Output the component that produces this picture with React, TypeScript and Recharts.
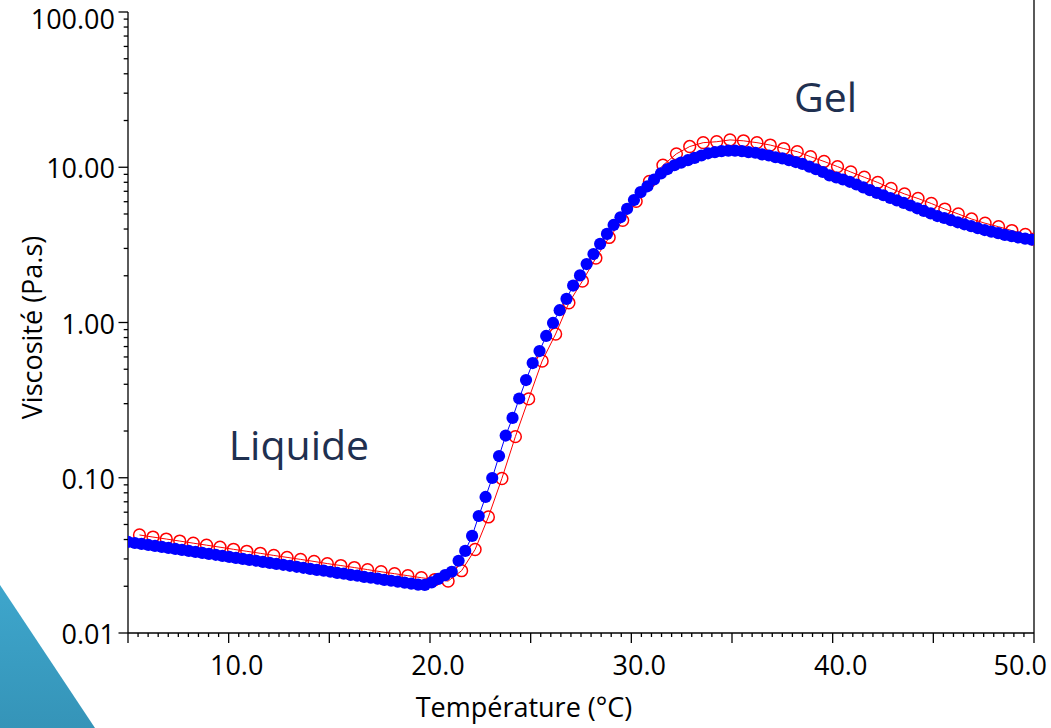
import React from "react";
import { Label, Line, LineChart, ReferenceDot, ReferenceLine, XAxis, YAxis } from "recharts";

// blue: filled dots, measured every ~0.335 °C
const blueTemp = [
  5.0, 5.34, 5.67, 6.01, 6.34, 6.68, 7.01, 7.35, 7.68, 8.02,
  8.35, 8.69, 9.02, 9.36, 9.69, 10.03, 10.36, 10.7, 11.03, 11.37,
  11.7, 12.04, 12.37, 12.71, 13.04, 13.38, 13.71, 14.05, 14.38, 14.72,
  15.05, 15.39, 15.72, 16.06, 16.39, 16.73, 17.06, 17.4, 17.73, 18.07,
  18.4, 18.74, 19.07, 19.41, 19.74, 20.08, 20.41, 20.75, 21.08, 21.42,
  21.75, 22.09, 22.42, 22.76, 23.09, 23.43, 23.76, 24.1, 24.43, 24.77,
  25.1, 25.44, 25.77, 26.11, 26.44, 26.78, 27.11, 27.45, 27.78, 28.12,
  28.45, 28.79, 29.12, 29.46, 29.79, 30.13, 30.46, 30.8, 31.13, 31.47,
  31.8, 32.14, 32.47, 32.81, 33.14, 33.48, 33.81, 34.15, 34.48, 34.82,
  35.15, 35.49, 35.82, 36.16, 36.49, 36.83, 37.16, 37.5, 37.83, 38.17,
  38.5, 38.84, 39.17, 39.51, 39.84, 40.18, 40.51, 40.85, 41.18, 41.52,
  41.85, 42.19, 42.52, 42.86, 43.19, 43.53, 43.86, 44.2, 44.53, 44.87,
  45.2, 45.54, 45.87, 46.21, 46.54, 46.88, 47.21, 47.55, 47.88, 48.22,
  48.55, 48.89, 49.22, 49.56, 49.89,
];
const blueVisc = [
  0.0386, 0.038, 0.0375, 0.0369, 0.0364, 0.0359, 0.0353, 0.0348, 0.0343, 0.0338,
  0.0333, 0.0328, 0.0323, 0.0319, 0.0314, 0.0309, 0.0305, 0.03, 0.0296, 0.0292,
  0.0287, 0.0283, 0.0279, 0.0275, 0.0271, 0.0267, 0.0263, 0.0259, 0.0255, 0.0252,
  0.0248, 0.0244, 0.0241, 0.0237, 0.0234, 0.023, 0.0227, 0.0224, 0.022, 0.0217,
  0.0214, 0.0211, 0.0208, 0.0205, 0.0204, 0.0212, 0.0223, 0.0236, 0.0248, 0.0292,
  0.0338, 0.0422, 0.0567, 0.0752, 0.0996, 0.138, 0.187, 0.243, 0.324, 0.426,
  0.548, 0.655, 0.819, 0.993, 1.2, 1.42, 1.73, 2.01, 2.38, 2.76,
  3.21, 3.72, 4.25, 4.76, 5.4, 6.15, 6.91, 7.54, 8.34, 9.12,
  9.74, 10.3, 10.7, 11.1, 11.5, 11.9, 12.3, 12.5, 12.7, 12.8,
  12.8, 12.7, 12.5, 12.4, 12.1, 11.9, 11.6, 11.4, 11.1, 10.8,
  10.5, 10.1, 9.71, 9.32, 8.87, 8.59, 8.34, 8.06, 7.74, 7.41,
  7.12, 6.83, 6.6, 6.34, 6.11, 5.89, 5.67, 5.44, 5.23, 5.04,
  4.85, 4.71, 4.56, 4.42, 4.29, 4.17, 4.05, 3.94, 3.85, 3.76,
  3.67, 3.6, 3.53, 3.47, 3.42,
];

// red: open circles, every ~0.67 °C
const redTemp = [
  5.57, 6.24, 6.9, 7.57, 8.24, 8.9, 9.57, 10.24, 10.9, 11.57,
  12.24, 12.9, 13.57, 14.24, 14.9, 15.57, 16.24, 16.9, 17.57, 18.24,
  18.9, 19.57, 20.24, 20.9, 21.57, 22.24, 22.9, 23.57, 24.24, 24.9,
  25.57, 26.24, 26.9, 27.57, 28.24, 28.9, 29.57, 30.24, 30.9, 31.57,
  32.24, 32.9, 33.57, 34.24, 34.9, 35.57, 36.24, 36.9, 37.57, 38.24,
  38.9, 39.57, 40.24, 40.9, 41.57, 42.24, 42.9, 43.57, 44.24, 44.9,
  45.57, 46.24, 46.9, 47.57, 48.24, 48.9, 49.57, 50.0,
];
const redVisc = [
  0.0428, 0.0415, 0.0403, 0.0391, 0.0379, 0.0368, 0.0357, 0.0346, 0.0336, 0.0326,
  0.0316, 0.0307, 0.0298, 0.0289, 0.028, 0.0272, 0.0264, 0.0256, 0.0248, 0.0241,
  0.0234, 0.0227, 0.0221, 0.0216, 0.0252, 0.0345, 0.0559, 0.0989, 0.184, 0.322,
  0.565, 0.843, 1.34, 1.85, 2.6, 3.53, 4.55, 6.03, 8.1, 10.3,
  12.2, 13.6, 14.4, 14.6, 15.0, 14.8, 14.4, 13.9, 13.2, 12.6,
  11.7, 10.9, 10.1, 9.32, 8.62, 7.98, 7.3, 6.73, 6.29, 5.84,
  5.38, 5.0, 4.64, 4.36, 4.14, 3.91, 3.69, 3.44,
];

const xLabels = [10, 20, 30, 40, 50];
const yLabels = [0.01, 0.1, 1, 10, 100];

const xTicks = Array.from({ length: 91 }, (_, i) => 5 + i * 0.5);
const yTicks = yLabels.flatMap((m, i) =>
  i < yLabels.length - 1 ? [m, ...[2, 3, 4, 5, 6, 7, 8, 9].map((k) => m * k)] : [m]
);

const blueData = blueTemp.map((t, i) => ({ t, v: blueVisc[i] }));
const redData = redTemp.map((t, i) => ({ t, v: redVisc[i] }));

const FONT = "'Open Sans', sans-serif";
const AXIS = "#000";

function XTick(props: any) {
  const { x, y, payload } = props;
  const v = payload.value;
  const major = Math.abs(v / 5 - Math.round(v / 5)) < 1e-6;
  const labelled = xLabels.some((l) => Math.abs(l - v) < 1e-6);
  const last = Math.abs(v - 50) < 1e-6;
  return (
    <g>
      <line x1={x} x2={x} y1={y} y2={y + (major ? 10 : 4)} stroke={AXIS} strokeWidth={1.3} />
      {labelled && (
        <text
          x={last ? x + 13 : x + 8}
          y={y + 41.5}
          textAnchor={last ? "end" : "middle"}
          fontFamily={FONT}
          fontSize={27}
          fill="#000"
        >
          {v.toFixed(1)}
        </text>
      )}
    </g>
  );
}

function YTick(props: any) {
  const { x, y, payload } = props;
  const v = payload.value;
  const lg = Math.log10(v);
  const major = Math.abs(lg - Math.round(lg)) < 1e-6;
  return (
    <g>
      <line x1={x - (major ? 9.5 : 4.3)} x2={x} y1={y} y2={y} stroke={AXIS} strokeWidth={1.3} />
      {major && (
        <text
          x={x - 13}
          y={y + (v > 50 ? 17 : 11)}
          textAnchor="end"
          fontFamily={FONT}
          fontSize={27}
          fill="#000"
        >
          {v.toFixed(2)}
        </text>
      )}
    </g>
  );
}

export default function App() {
  return (
    <div style={{ position: "absolute", left: 0, top: 0, width: 1051, height: 728, background: "#fff" }}>
      <svg width={1051} height={728} style={{ position: "absolute", left: 0, top: 0 }}>
        <defs>
          <linearGradient id="tri" x1="0" y1="0" x2="0" y2="1">
            <stop offset="0%" stopColor="#3ea6cc" />
            <stop offset="100%" stopColor="#3594b8" />
          </linearGradient>
        </defs>
        <polygon points="0,585 95,728 0,728" fill="url(#tri)" />
      </svg>
      <div style={{ position: "absolute", left: 0, top: 0 }}>
        <LineChart width={1051} height={728} margin={{ top: 12, right: 17, bottom: 0, left: 0 }}>
          <XAxis
            dataKey="t"
            type="number"
            domain={[5, 50]}
            ticks={xTicks}
            interval={0}
            height={95}
            tickSize={0}
            tickMargin={0}
            tick={<XTick />}
            axisLine={{ stroke: AXIS, strokeWidth: 1.3 }}
            allowDataOverflow
          >
            <Label
              content={() => (
                <text x={524} y={716.5} textAnchor="middle" fontFamily={FONT} fontSize={27} fill="#000">
                  Température (°C)
                </text>
              )}
            />
          </XAxis>
          <YAxis
            type="number"
            scale="log"
            domain={[0.01, 100]}
            ticks={yTicks}
            interval={0}
            width={128}
            tickSize={0}
            tickMargin={0}
            tick={<YTick />}
            axisLine={{ stroke: AXIS, strokeWidth: 1.3 }}
            allowDataOverflow
          >
            <Label
              content={() => (
                <text
                  x={41.5}
                  y={327.5}
                  transform="rotate(-90 41.5 327.5)"
                  textAnchor="middle"
                  fontFamily={FONT}
                  fontSize={27}
                  fill="#000"
                >
                  Viscosité (Pa.s)
                </text>
              )}
            />
          </YAxis>
          <ReferenceLine
            x={50}
            stroke={AXIS}
            strokeWidth={1.3}
            shape={(p: any) => (
              <line
                x1={p.x1}
                x2={p.x2}
                y1={0}
                y2={Math.max(p.y1, p.y2)}
                stroke={AXIS}
                strokeWidth={1.3}
              />
            )}
          />
          <Line
            data={redData}
            dataKey="v"
            type="linear"
            stroke="#ff0000"
            strokeWidth={1}
            dot={{ r: 5.9, fill: "none", stroke: "#ff0000", strokeWidth: 1.5 }}
            activeDot={false}
            isAnimationActive={false}
          />
          <Line
            data={blueData}
            dataKey="v"
            type="linear"
            stroke="#0000ff"
            strokeWidth={1}
            dot={{ r: 6.1, fill: "#0000ff", stroke: "#0000ff", strokeWidth: 0 }}
            activeDot={false}
            isAnimationActive={false}
          />
          <ReferenceDot
            x={13.49}
            y={0.1616}
            r={1}
            fill="none"
            stroke="none"
            label={{ value: "Liquide", position: "center", fill: "#1f3050", fontSize: 41, fontFamily: FONT }}
          />
          <ReferenceDot
            x={39.65}
            y={28.3}
            r={1}
            fill="none"
            stroke="none"
            label={{ value: "Gel", position: "center", fill: "#1f3050", fontSize: 41, fontFamily: FONT }}
          />
        </LineChart>
      </div>
    </div>
  );
}
